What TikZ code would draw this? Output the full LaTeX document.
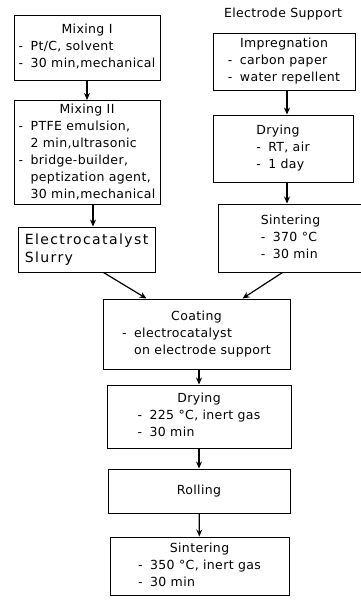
\documentclass[tikz,border=0pt]{standalone}
\usepackage{fontspec}
\setmainfont{DejaVu Sans}[LetterSpace=3]
\usetikzlibrary{arrows.meta,calc}

\newcommand{\dsh}[1][12pt]{\makebox[#1][l]{-}}
\newcommand{\blk}[1]{\begin{tabular}{@{}l@{}}#1\end{tabular}}
\newcommand{\hdc}[1]{\multicolumn{1}{@{}c@{}}{#1}}

\begin{document}
\begin{tikzpicture}[x=1pt,y=-1pt,
    stp/.style={draw,line width=1pt,inner sep=1pt,font=\fontsize{12.5}{17}\selectfont,anchor=center},
    arr/.style={-{Stealth[length=7pt,width=6pt]},line width=1.2pt},
]
\useasboundingbox (0,0) rectangle (361,605);
% left column: electrocatalyst
\node[stp,minimum width=146,minimum height=65] (mix1) at (87,47.5)
  {\blk{\hdc{Mixing I}\\ \dsh Pt/C, solvent\\ \dsh 30 min,mechanical}};
\node[stp,minimum width=146,minimum height=101] (mix2) at (87,152.5)
  {\blk{\hdc{Mixing II}\\ \dsh PTFE emulsion,\\ \hspace*{12pt}2 min,ultrasonic\\
   \dsh bridge-builder,\\ \hspace*{12pt}peptization agent,\\ \hspace*{12pt}30 min,mechanical}};
\node[stp,minimum width=137,minimum height=45,font=\fontsize{14}{18}\selectfont\addfontfeature{LetterSpace=10}] (slurry) at (86.5,249.5)
  {\blk{Electrocatalyst\\ Slurry}};
% right column: electrode support
\node[font=\fontsize{12.5}{14}\selectfont] (title) at (283,14) {Electrode Support};
\node[stp,minimum width=142,minimum height=57] (impreg) at (284,61.5)
  {\blk{\hdc{Impregnation}\\ \dsh carbon paper\\ \dsh water repellent}};
\node[stp,minimum width=140,minimum height=67] (dry1) at (283,148.5)
  {\blk{Drying\\ \dsh RT, air\\ \dsh 1 day}};
\node[stp,minimum width=145,minimum height=68] (sint1) at (290.5,238)
  {\blk{Sintering\\ \dsh 370 °C\\ \dsh 30 min}};
% common line
\node[stp,minimum width=187,minimum height=70] (coat) at (196.5,334)
  {\blk{\hdc{Coating}\\ \dsh electrocatalyst\\ \hspace*{12pt}on electrode support}};
\node[stp,minimum width=184,minimum height=63] (dry2) at (199,416.5)
  {\blk{\hdc{Drying}\\ \dsh 225 °C, inert gas\\ \dsh 30 min}};
\node[stp,minimum width=182,minimum height=44] (roll) at (199,491) {Rolling};
\node[stp,minimum width=179,minimum height=58] (sint2) at (199.5,566)
  {\blk{\hdc{Sintering}\\ \dsh 350 °C, inert gas\\ \dsh 30 min}};

\draw[arr] (mix1) -- (mix2);
\draw[arr] ([xshift=6pt]mix2.south) -- ([xshift=6pt]mix2.south |- slurry.north);
\draw[arr] ([xshift=3pt]impreg.south) -- ([xshift=3pt]impreg.south |- dry1.north);
\draw[arr] ([xshift=4pt]dry1.south) -- ([xshift=4pt]dry1.south |- sint1.north);
\draw[arr] ([xshift=17pt]slurry.south) -- ([xshift=-50pt]coat.north);
\draw[arr] ([xshift=-8pt]sint1.south) -- ([xshift=46pt]coat.north);
\draw[arr] (coat.south -| dry2.north) -- (dry2.north);
\draw[arr] (dry2) -- (roll);
\draw[arr] (roll) -- (sint2);
\end{tikzpicture}
\end{document}
